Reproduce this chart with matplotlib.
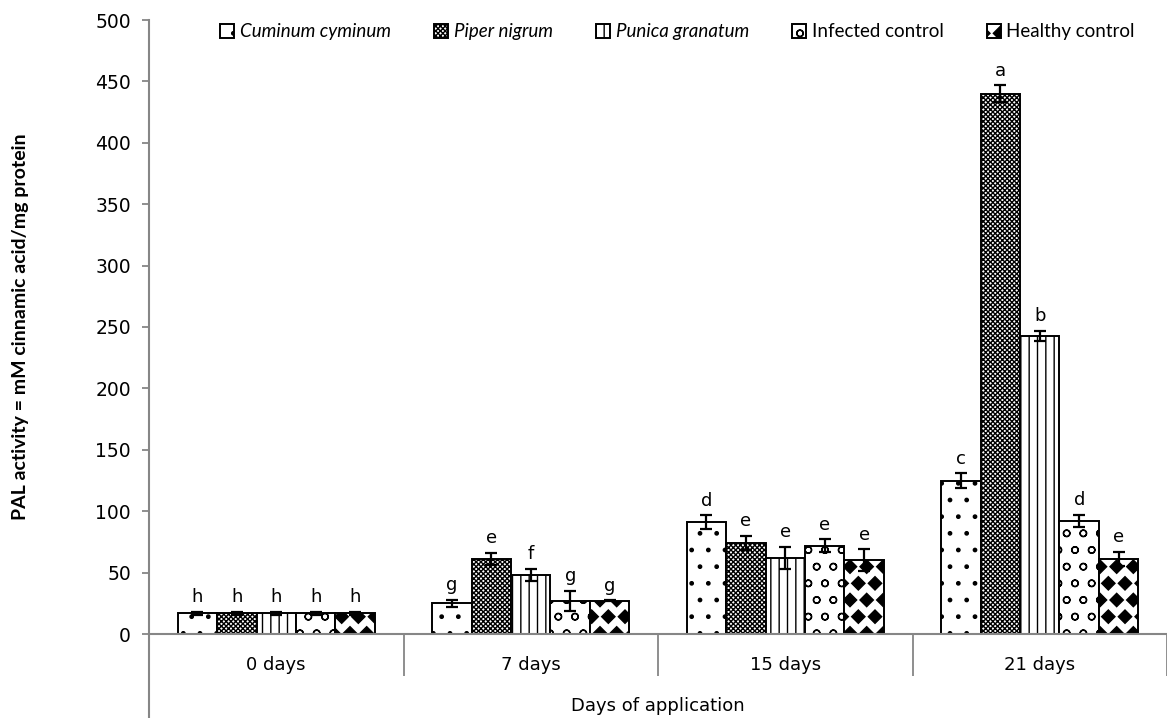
import numpy as np
import matplotlib
matplotlib.use("Agg")
import matplotlib.pyplot as plt
import matplotlib.hatch as mhatch
from matplotlib.path import Path


# diamond hatch (takes the place of the star hatch '*')
class Diamonds(mhatch.Shapes):
    size = 0.4
    filled = True

    def __init__(self, hatch, density):
        self.num_rows = hatch.count('*') * density
        path = Path.unit_regular_polygon(4)
        self.shape_vertices = path.vertices
        self.shape_codes = path.codes
        super().__init__(hatch, density)


mhatch._hatch_types = [Diamonds if t is mhatch.Stars else t for t in mhatch._hatch_types]

# data
days = ["0 days", "7 days", "15 days", "21 days"]
series = ["Cuminum cyminum", "Piper nigrum", "Punica granatum",
          "Infected control", "Healthy control"]
italic = [True, True, True, False, False]

cuminum = [17, 25, 91, 125]
piper = [17, 61, 74, 440]
punica = [17, 48, 62, 243]
infected = [17, 27, 72, 92]
healthy = [17, 27, 60, 61]

cuminum_err = [1.2, 3, 5.5, 6]
piper_err = [1.2, 5, 6, 7]
punica_err = [1.2, 5, 9, 4]
infected_err = [1.2, 8, 5, 5]
healthy_err = [1.2, 0.5, 9, 6]

letters = [
    ["h", "g", "d", "c"],
    ["h", "e", "e", "a"],
    ["h", "f", "e", "b"],
    ["h", "g", "e", "d"],
    ["h", "g", "e", "e"],
]

values = [cuminum, piper, punica, infected, healthy]
errors = [cuminum_err, piper_err, punica_err, infected_err, healthy_err]
hatches = [".", "xxxxxxx", "||", "o", "*"]

grey = "#868686"
plt.rcParams["hatch.linewidth"] = 1.0

fig = plt.figure(figsize=(11.67, 7.18), dpi=100)
W, H = 1167, 718
x0, xr, y0, y1 = 149, 1167, 634, 20
ax = fig.add_axes([x0 / W, (H - y0) / H, (xr - x0) / W, (y0 - y1) / H])

x = np.arange(len(days))
bw = 0.155
for i in range(len(series)):
    pos = x + (i - 2) * bw
    ax.bar(pos, values[i], bw, color="white", edgecolor="black", linewidth=1.4,
           hatch=hatches[i], label=series[i], zorder=2)
    ax.errorbar(pos, values[i], yerr=errors[i], fmt="none", ecolor="black",
                elinewidth=1.6, capsize=4.5, capthick=1.6, zorder=3)
    for j in range(len(days)):
        ax.annotate(letters[i][j], (pos[j], values[i][j] + errors[i][j]),
                    xytext=(0, 4), textcoords="offset points", ha="center",
                    va="bottom", fontsize=13)

ax.set_ylim(0, 500)
ax.set_xlim(-0.5, -0.5 + (xr - x0) / 256)
ax.set_yticks(np.arange(0, 501, 50))
ax.set_xticks(x)
ax.set_xticklabels(days)
ax.set_xticks(np.arange(-0.5, len(days), 1.0)[1:], minor=True)
ax.tick_params(axis="x", which="major", length=0, pad=16, labelsize=13)
ax.tick_params(axis="x", which="minor", length=30, width=1.3, color=grey)
ax.tick_params(axis="y", length=5, width=1.3, color=grey, labelsize=13.5, pad=8)

for s in ["top", "right"]:
    ax.spines[s].set_visible(False)
for s in ["left", "bottom"]:
    ax.spines[s].set_color(grey)
    ax.spines[s].set_linewidth(1.5)
# left axis line runs on below the category labels
ax.spines["left"].set_bounds(-(H - y0) / (y0 - y1) * 500, 500)
ax.set_ylim(0, 500)

ax.set_xlabel("Days of application", fontsize=13, labelpad=12)
ax.set_ylabel("PAL activity = mM cinnamic acid/mg protein", fontsize=14,
              fontweight="bold", family="Lato")
ax.yaxis.set_label_coords(-0.118, 0.5)

leg = ax.legend(ncol=5, loc="upper right", bbox_to_anchor=(0.985, 1.022),
                frameon=False, handlelength=0.75, handleheight=0.75,
                handletextpad=0.3, columnspacing=2.3,
                prop={"family": "Lato", "size": 13.5})
for t, it in zip(leg.get_texts(), italic):
    if it:
        t.set_style("italic")

fig.savefig("out.png", dpi=100)
